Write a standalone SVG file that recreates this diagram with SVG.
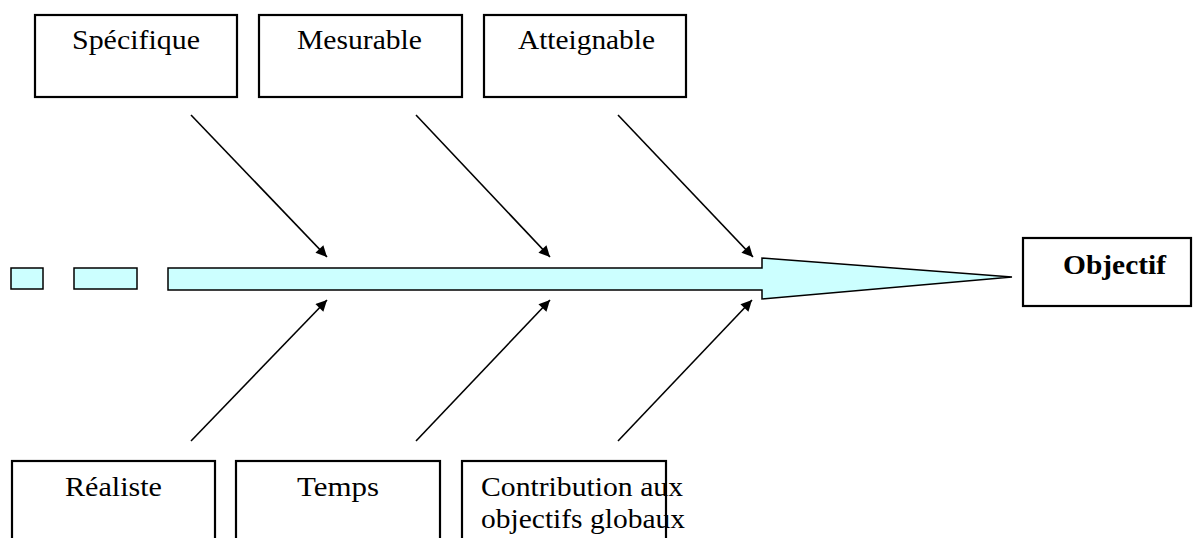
<svg xmlns="http://www.w3.org/2000/svg" width="1193" height="538" viewBox="0 0 1193 538">
<style>
.box{fill:#fff;stroke:#000;stroke-width:2.2}
.lbl{font-family:"Liberation Serif","Times New Roman",serif;font-size:27px;fill:#000}
.bold{font-weight:bold}
.fish{fill:#ccffff;stroke:#000;stroke-width:1.5}
.con{stroke:#000;stroke-width:1.6;fill:none;marker-end:url(#ah)}
</style>
<defs>
<marker id="ah" viewBox="0 0 10 10" refX="10" refY="5" markerWidth="14" markerHeight="11" markerUnits="userSpaceOnUse" orient="auto">
<path d="M0,0 L10,5 L0,10 z" fill="#000"/>
</marker>
</defs>
<rect width="1193" height="538" fill="#fff"/>
<g id="spine">
<rect class="fish" x="11" y="268" width="32" height="21"/>
<rect class="fish" x="74" y="268" width="63" height="21"/>
<path class="fish" d="M168,268 L762,268 L762,258 L1012,277 L762,299 L762,290 L168,290 Z"/>
</g>
<g id="node-specifique"><rect class="box" x="35" y="15" width="202" height="82"/><text class="lbl" x="72" y="49" textLength="128" lengthAdjust="spacingAndGlyphs">Spécifique</text></g>
<g id="node-mesurable"><rect class="box" x="259" y="15" width="203" height="82"/><text class="lbl" x="297" y="49" textLength="125" lengthAdjust="spacingAndGlyphs">Mesurable</text></g>
<g id="node-atteignable"><rect class="box" x="484" y="15" width="202" height="82"/><text class="lbl" x="518" y="49" textLength="137" lengthAdjust="spacingAndGlyphs">Atteignable</text></g>
<g id="node-realiste"><rect class="box" x="12" y="461" width="203" height="90"/><text class="lbl" x="65" y="496" textLength="97" lengthAdjust="spacingAndGlyphs">Réaliste</text></g>
<g id="node-temps"><rect class="box" x="236" y="461" width="204" height="90"/><text class="lbl" x="297" y="496" textLength="82" lengthAdjust="spacingAndGlyphs">Temps</text></g>
<g id="node-contribution"><rect class="box" x="462" y="461" width="204" height="90"/><text class="lbl" x="481" y="496" textLength="202" lengthAdjust="spacingAndGlyphs">Contribution aux</text><text class="lbl" x="481" y="528" textLength="204" lengthAdjust="spacingAndGlyphs">objectifs globaux</text></g>
<g id="node-objectif"><rect class="box" x="1023" y="238" width="168" height="68"/><text class="lbl bold" x="1063" y="274" textLength="103" lengthAdjust="spacingAndGlyphs">Objectif</text></g>
<g id="connectors">
<line class="con" x1="191" y1="115" x2="327" y2="257"/>
<line class="con" x1="416" y1="115" x2="550" y2="257"/>
<line class="con" x1="618" y1="115" x2="753" y2="257"/>
<line class="con" x1="191" y1="441" x2="327" y2="300"/>
<line class="con" x1="416" y1="441" x2="550" y2="300"/>
<line class="con" x1="618" y1="441" x2="752" y2="300"/>
</g>
</svg>
